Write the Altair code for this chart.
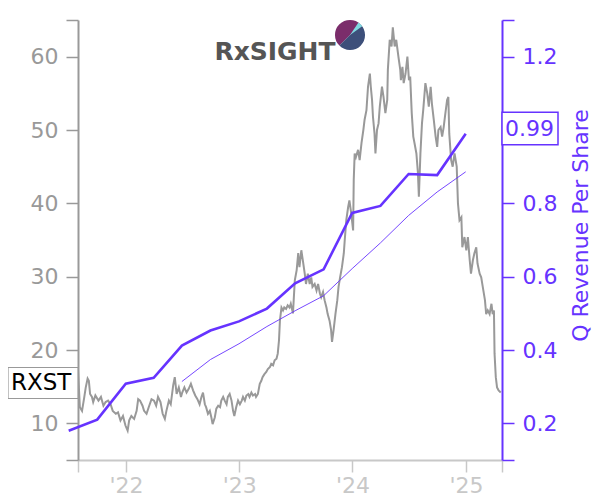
import altair as alt
import pandas as pd

# ---------------- data ----------------
price_dates = [
    "2021-07-30", "2021-08-05", "2021-08-12", "2021-08-19", "2021-08-24", "2021-08-30",
    "2021-09-03", "2021-09-07", "2021-09-13", "2021-09-17", "2021-09-24", "2021-10-04",
    "2021-10-12", "2021-10-20", "2021-10-27", "2021-11-04", "2021-11-12", "2021-11-19",
    "2021-11-29", "2021-12-06", "2021-12-14", "2021-12-22", "2021-12-30", "2022-01-06",
    "2022-01-11", "2022-01-18", "2022-01-27", "2022-02-04", "2022-02-09", "2022-02-15",
    "2022-02-23", "2022-02-28", "2022-03-08", "2022-03-15", "2022-03-24", "2022-04-01",
    "2022-04-08", "2022-04-14", "2022-04-22", "2022-04-29", "2022-05-06", "2022-05-11",
    "2022-05-19", "2022-05-25", "2022-06-02", "2022-06-07", "2022-06-13", "2022-06-20",
    "2022-06-27", "2022-07-01", "2022-07-08", "2022-07-15", "2022-07-22", "2022-07-29",
    "2022-08-05", "2022-08-12", "2022-08-19", "2022-08-26", "2022-09-01", "2022-09-06",
    "2022-09-12", "2022-09-16", "2022-09-22", "2022-09-28", "2022-10-03", "2022-10-07",
    "2022-10-14", "2022-10-19", "2022-10-25", "2022-10-31", "2022-11-04", "2022-11-10",
    "2022-11-15", "2022-11-21", "2022-11-25", "2022-12-01", "2022-12-07", "2022-12-12",
    "2022-12-16", "2022-12-22", "2022-12-28", "2023-01-03", "2023-01-09", "2023-01-13",
    "2023-01-19", "2023-01-24", "2023-01-30", "2023-02-03", "2023-02-09", "2023-02-14",
    "2023-02-21", "2023-02-24", "2023-03-02", "2023-03-08", "2023-03-13", "2023-03-17",
    "2023-03-23", "2023-03-29", "2023-04-03", "2023-04-10", "2023-04-14", "2023-04-20",
    "2023-04-25", "2023-05-01", "2023-05-05", "2023-05-09", "2023-05-12", "2023-05-17",
    "2023-05-22", "2023-05-26", "2023-06-01", "2023-06-06", "2023-06-12", "2023-06-16",
    "2023-06-23", "2023-06-29", "2023-07-05", "2023-07-10", "2023-07-14", "2023-07-20",
    "2023-07-25", "2023-07-31", "2023-08-04", "2023-08-10", "2023-08-16", "2023-08-21",
    "2023-08-25", "2023-09-01", "2023-09-07", "2023-09-12", "2023-09-18", "2023-09-22",
    "2023-09-28", "2023-10-03", "2023-10-09", "2023-10-13", "2023-10-19", "2023-10-24",
    "2023-10-27", "2023-11-01", "2023-11-07", "2023-11-13", "2023-11-17", "2023-11-22",
    "2023-11-28", "2023-12-04", "2023-12-07", "2023-12-12", "2023-12-18", "2023-12-22",
    "2023-12-28", "2024-01-03", "2024-01-05", "2024-01-08", "2024-01-12", "2024-01-19",
    "2024-01-24", "2024-01-30", "2024-02-05", "2024-02-09", "2024-02-15", "2024-02-20",
    "2024-02-26", "2024-02-29", "2024-03-04", "2024-03-07", "2024-03-12", "2024-03-15",
    "2024-03-20", "2024-03-25", "2024-03-29", "2024-04-05", "2024-04-10", "2024-04-16",
    "2024-04-22", "2024-04-24", "2024-04-30", "2024-05-06", "2024-05-10", "2024-05-16",
    "2024-05-21", "2024-05-28", "2024-06-03", "2024-06-05", "2024-06-10", "2024-06-14",
    "2024-06-20", "2024-06-26", "2024-07-01", "2024-07-05", "2024-07-10", "2024-07-15",
    "2024-07-19", "2024-07-25", "2024-07-30", "2024-08-02", "2024-08-07", "2024-08-12",
    "2024-08-16", "2024-08-23", "2024-08-29", "2024-09-03", "2024-09-09", "2024-09-13",
    "2024-09-19", "2024-09-25", "2024-09-30", "2024-10-04", "2024-10-11", "2024-10-16",
    "2024-10-21", "2024-10-25", "2024-11-01", "2024-11-05", "2024-11-08", "2024-11-14",
    "2024-11-19", "2024-11-25", "2024-12-02", "2024-12-06", "2024-12-11", "2024-12-17",
    "2024-12-20", "2024-12-27", "2025-01-02", "2025-01-07", "2025-01-13", "2025-01-17",
    "2025-01-23", "2025-01-28", "2025-02-03", "2025-02-07", "2025-02-14", "2025-02-19",
    "2025-02-24", "2025-03-03", "2025-03-07", "2025-03-12", "2025-03-18", "2025-03-24",
    "2025-03-28", "2025-04-01", "2025-04-03", "2025-04-07", "2025-04-11", "2025-04-16",
    "2025-04-23",
]
price_values = [
    17.3, 12.2, 11.7, 13.5, 14.9, 16.1,
    15.8, 14.0, 13.6, 12.9, 13.8, 13.1,
    13.6, 12.4, 12.9, 13.1, 12.6, 11.7,
    11.3, 11.5, 10.4, 11.0, 9.7, 9.0,
    10.4, 11.0, 10.6, 11.7, 13.3, 13.1,
    12.4, 11.7, 11.3, 12.2, 13.3, 13.1,
    12.4, 13.6, 12.9, 11.3, 10.6, 11.7,
    13.1, 12.6, 15.2, 16.3, 14.0, 14.9,
    13.6, 14.2, 14.9, 14.2, 14.7, 15.4,
    14.5, 13.8, 13.3, 12.6, 13.6, 14.2,
    12.6, 12.2, 11.3, 11.7, 10.8, 9.9,
    10.8, 12.0, 12.4, 12.2, 13.1, 13.6,
    13.1, 12.6, 13.6, 14.0, 13.1, 11.7,
    11.0, 12.2, 13.1, 12.6, 13.1, 13.6,
    13.1, 13.8, 14.0, 13.6, 14.2, 13.8,
    14.0, 13.6, 14.0, 15.4, 15.8, 16.3,
    16.7, 17.0, 17.4, 17.7, 18.1, 17.9,
    18.6, 18.8, 19.5, 21.3, 24.0, 25.8,
    25.4, 25.8, 25.6, 26.1, 25.8, 26.3,
    25.0, 29.5, 30.9, 33.2, 31.3, 33.6,
    32.2, 30.4, 29.0, 30.4, 29.0, 29.9,
    28.6, 29.0, 28.1, 29.0, 27.7, 27.2,
    27.9, 26.8, 25.8, 24.9, 24.0, 22.7,
    21.1, 22.7, 24.9, 26.8, 28.6, 29.9,
    31.3, 33.2, 35.0, 37.7, 39.5, 40.4,
    38.6, 36.3, 43.2, 46.8, 46.3, 47.3,
    45.9, 48.2, 50.0, 51.4, 52.7, 55.9,
    57.7, 55.9, 54.1, 51.8, 49.5, 46.8,
    50.0, 50.9, 53.2, 55.9, 54.5, 52.3,
    54.1, 58.2, 62.3, 61.4, 64.0, 61.4,
    62.3, 60.0, 58.2, 56.8, 58.6, 56.4,
    57.7, 60.0, 56.8, 57.3, 52.3, 49.1,
    48.2, 46.8, 44.1, 40.9, 46.8, 50.9,
    52.7, 56.4, 55.0, 53.2, 55.9, 53.6,
    51.4, 49.1, 47.7, 50.0, 50.4, 49.1,
    50.4, 51.8, 54.1, 54.5, 49.5, 45.9,
    45.0, 46.8, 45.0, 40.0, 37.7, 38.1,
    34.0, 35.4, 33.6, 35.4, 32.2, 30.4,
    32.2, 33.2, 34.0, 31.8, 30.4, 29.9,
    28.6, 26.8, 24.9, 25.4, 24.9, 26.3,
    24.9, 25.4, 19.5, 16.3, 14.9, 14.5,
    14.2,
]

rev_dates = [
    "2021-06-30", "2021-09-30", "2021-12-31", "2022-03-31", "2022-06-30",
    "2022-09-30", "2022-12-31", "2023-03-31", "2023-06-30", "2023-09-30",
    "2023-12-31", "2024-03-31", "2024-06-30", "2024-09-30", "2024-12-31",
]
rev_values = [
    0.180, 0.210, 0.308, 0.324, 0.412,
    0.453, 0.478, 0.513, 0.582, 0.620,
    0.774, 0.793, 0.880, 0.877, 0.990,
]
trend_dates = [
    "2022-06-30", "2022-09-30", "2022-12-31", "2023-03-31", "2023-06-30",
    "2023-09-30", "2023-12-31", "2024-03-31", "2024-06-30", "2024-09-30",
    "2024-12-31",
]
trend_values = [0.314, 0.374, 0.417, 0.464, 0.507, 0.548, 0.622, 0.692, 0.767, 0.831, 0.886]

ticker = "RXST"
ticker_level = [15.5]
last_rev = [0.99]
last_rev_text = ["0.99"]
logo_text = ["RxSIGHT"]
price_domain = [5, 65]
rev_domain = [0.1, 1.3]
left_ticks = [5, 10, 20, 30, 40, 50, 60, 65]
right_ticks = [0.1, 0.2, 0.4, 0.6, 0.8, 1.0, 1.2, 1.3]

# ---------------- styling ----------------
PURPLE = "#6633ff"
GRAY = "#999999"
LIGHT = "#c8c8c8"
FONT = "DejaVu Sans"

price_df = pd.DataFrame({"date": price_dates, "price": price_values})
rev_df = pd.DataFrame({"date": rev_dates, "rev": rev_values})
trend_df = pd.DataFrame({"date": trend_dates, "rev": trend_values})
tick_df = pd.DataFrame({"level": ticker_level, "label": [ticker]})
last_df = pd.DataFrame({"rev": last_rev, "label": last_rev_text})
logo_df = pd.DataFrame({"label": logo_text})

x_dom = [alt.DateTime(year=2021, month=7, date=30, utc=True),
         alt.DateTime(year=2025, month=4, date=27, utc=True)]
x_vals = [x_dom[0]] + [alt.DateTime(year=y, month=1, date=1, utc=True) for y in (2022, 2023, 2024, 2025)] + [x_dom[1]]
xscale = alt.Scale(type="utc", domain=x_dom)
xaxis = alt.Axis(
    values=x_vals,
    labelExpr="utcmonth(datum.value) == 0 && utcdate(datum.value) == 1 ? \"'\" + utcFormat(datum.value, '%y') : ''",
    domainColor=LIGHT, domainWidth=2, tickColor=LIGHT, tickWidth=1.5, tickSize=12,
    labelColor=LIGHT, labelFont=FONT, labelFontSize=22, labelPadding=3,
    grid=False, title=None, labelOverlap=False,
)
lscale = alt.Scale(domain=price_domain, nice=False, zero=False)
rscale = alt.Scale(domain=rev_domain, nice=False, zero=False)

price = alt.Chart(price_df).mark_line(color=GRAY, strokeWidth=2).encode(
    x=alt.X("date:T", scale=xscale, axis=xaxis),
    y=alt.Y("price:Q", scale=lscale, axis=alt.Axis(
        orient="left", values=left_ticks,
        labelExpr="datum.value == 5 || datum.value == 65 ? '' : datum.label",
        domainColor=GRAY, domainWidth=2, tickColor=GRAY, tickWidth=1.5, tickSize=12,
        labelColor=GRAY, labelFont=FONT, labelFontSize=22, labelPadding=8,
        grid=False, title=None)),
)

rev = alt.Chart(rev_df).mark_line(color=PURPLE, strokeWidth=2.6).encode(
    x=alt.X("date:T", scale=xscale),
    y=alt.Y("rev:Q", scale=rscale, axis=alt.Axis(
        orient="right", values=right_ticks,
        labelExpr="datum.value == 0.1 || datum.value == 1.3 || datum.value == 1 ? '' : datum.label",
        format=".1f",
        domainColor=PURPLE, domainWidth=2, tickColor=PURPLE, tickWidth=1.5, tickSize=12,
        labelColor=PURPLE, labelFont=FONT, labelFontSize=22, labelPadding=8,
        grid=False, title="Q Revenue Per Share", titleColor=PURPLE, titleFont=FONT,
        titleFontSize=22, titleFontWeight="normal", titleAngle=270,
        titleX=78, titleY=205, titleAlign="center", titleBaseline="middle")),
)

trend = alt.Chart(trend_df).mark_line(color=PURPLE, strokeWidth=0.9).encode(
    x=alt.X("date:T", scale=xscale),
    y=alt.Y("rev:Q", scale=rscale, axis=None),
)

tick_box = alt.Chart(tick_df).mark_rect(
    fill="white", stroke=GRAY, strokeWidth=1.2, yOffset=-15.5, y2Offset=15.5
).encode(
    x=alt.value(-70), x2=alt.value(0),
    y=alt.Y("level:Q", scale=lscale, axis=None), y2="level:Q",
)
tick_text = alt.Chart(tick_df).mark_text(
    align="left", baseline="middle", font=FONT, fontSize=23, color="black"
).encode(
    x=alt.value(-67), y=alt.Y("level:Q", scale=lscale, axis=None), text="label:N",
)

last_box = alt.Chart(last_df).mark_rect(
    fill="white", stroke=PURPLE, strokeWidth=1.5, yOffset=-21.5, y2Offset=11
).encode(
    x=alt.value(424), x2=alt.value(480),
    y=alt.Y("rev:Q", scale=rscale, axis=None), y2="rev:Q",
)
last_text = alt.Chart(last_df).mark_text(
    align="left", baseline="middle", font=FONT, fontSize=22, color=PURPLE, dy=-5
).encode(
    x=alt.value(427), y=alt.Y("rev:Q", scale=rscale, axis=None), text="label:N",
)

logo = alt.Chart(logo_df).mark_text(
    align="center", baseline="middle", font=FONT, fontWeight="bold", fontSize=25, color="#555555"
).encode(x=alt.value(197), y=alt.value(32), text="label:N")

logo_top = alt.Chart(logo_df).mark_arc(
    radius=15, theta=3.93, theta2=7.07, color="#7b2d6b"
).encode(x=alt.value(272), y=alt.value(15))
logo_bottom = alt.Chart(logo_df).mark_arc(
    radius=15, theta=0.785, theta2=3.93, color="#3d4f7a"
).encode(x=alt.value(272), y=alt.value(15))
logo_streak = alt.Chart(logo_df).mark_arc(
    radius=15, theta=0.60, theta2=0.95, color="#7fd8e0"
).encode(x=alt.value(272), y=alt.value(15))

chart = alt.layer(
    price, tick_box, tick_text, rev, trend, last_box, last_text,
    logo, logo_top, logo_bottom, logo_streak,
).resolve_scale(y="independent").properties(
    width=424, height=440,
    autosize=alt.AutoSizeParams(type="none"),
    padding={"left": 70, "top": 12, "right": 90, "bottom": 40},
).configure_view(stroke=None)

chart.save("out.html", embed_options={"renderer": "svg", "actions": False})
